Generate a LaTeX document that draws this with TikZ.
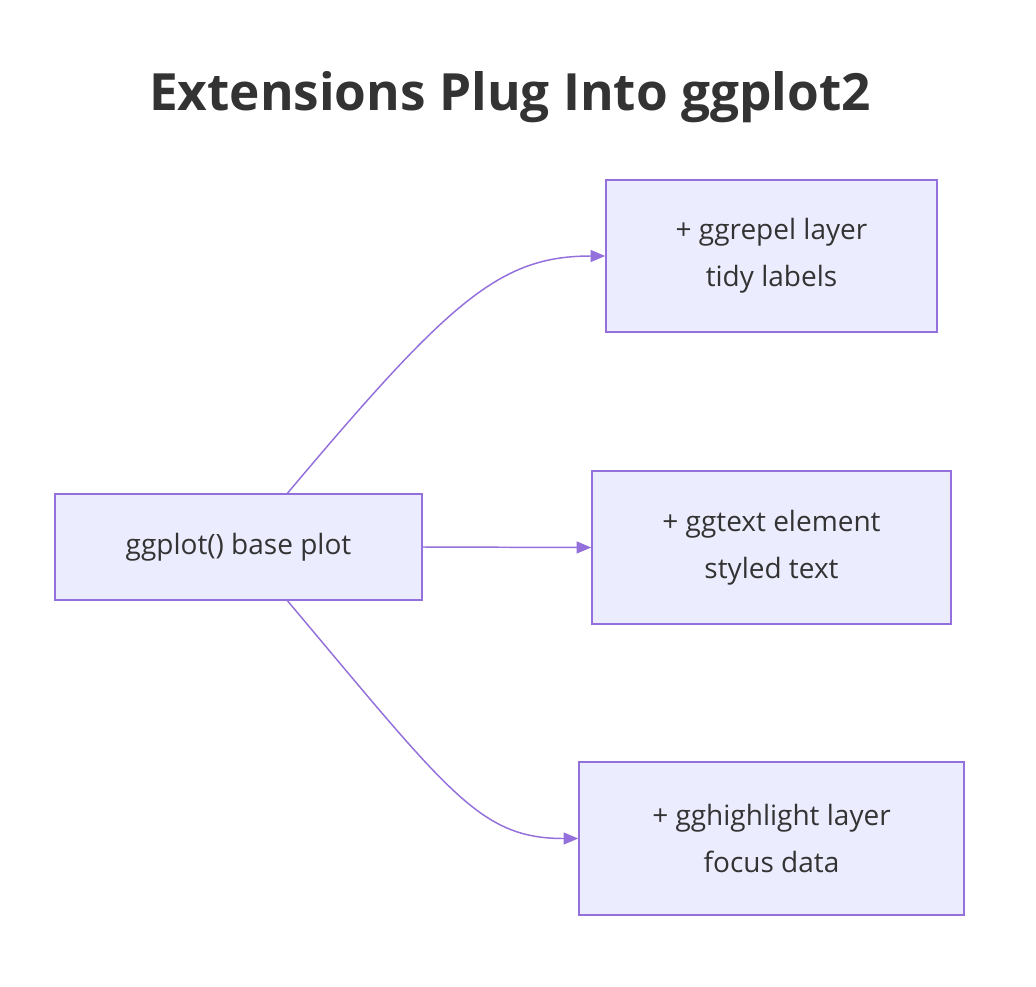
\documentclass[tikz,border=0pt]{standalone}
\usepackage{fontspec}
\setmainfont{Open Sans}
\usetikzlibrary{positioning,calc,arrows.meta}
\definecolor{boxfill}{HTML}{ECECFF}
\definecolor{boxline}{HTML}{9370DB}
\definecolor{txt}{HTML}{333333}
\tikzset{
  box/.style={draw=boxline, fill=boxfill, line width=1.2pt, text=txt,
    align=center, font=\fontsize{21}{35}\selectfont, inner sep=0pt},
  link/.style={draw=boxline, line width=1.1pt, -{Triangle[length=11pt,width=9pt]}}
}
\begin{document}
\begin{tikzpicture}[x=0.75pt, y=-0.75pt]
  \useasboundingbox (0,0) rectangle (1036,986);
  % title
  \node[text=txt, font=\fontsize{38.5}{46}\selectfont\bfseries] (title) at (510,97) {Extensions Plug Into ggplot2};

  % nodes
  \node[box, minimum width=367*0.75pt, minimum height=106*0.75pt] (base) at (238.5,547) {ggplot() base plot};
  \node[box, minimum width=331*0.75pt, minimum height=152*0.75pt] (repel) at (771.5,256) {+ ggrepel layer\\tidy labels};
  \node[box, minimum width=359*0.75pt, minimum height=153*0.75pt] (text) at (771.5,547.5) {+ ggtext element\\styled text};
  \node[box, minimum width=385*0.75pt, minimum height=153*0.75pt] (high) at (771.5,838.5) {+ gghighlight layer\\focus data};

  % connectors
  \coordinate (bn) at ($(base.north)+(49,0)$);
  \coordinate (bs) at ($(base.south)+(49,0)$);
  \draw[link] (bn) .. controls (450,300) and (500,256) .. (repel.west);
  \draw[link] (base.east) -- (text.west);
  \draw[link] (bs) .. controls (450,794) and (480,838.5) .. (high.west);
\end{tikzpicture}
\end{document}
